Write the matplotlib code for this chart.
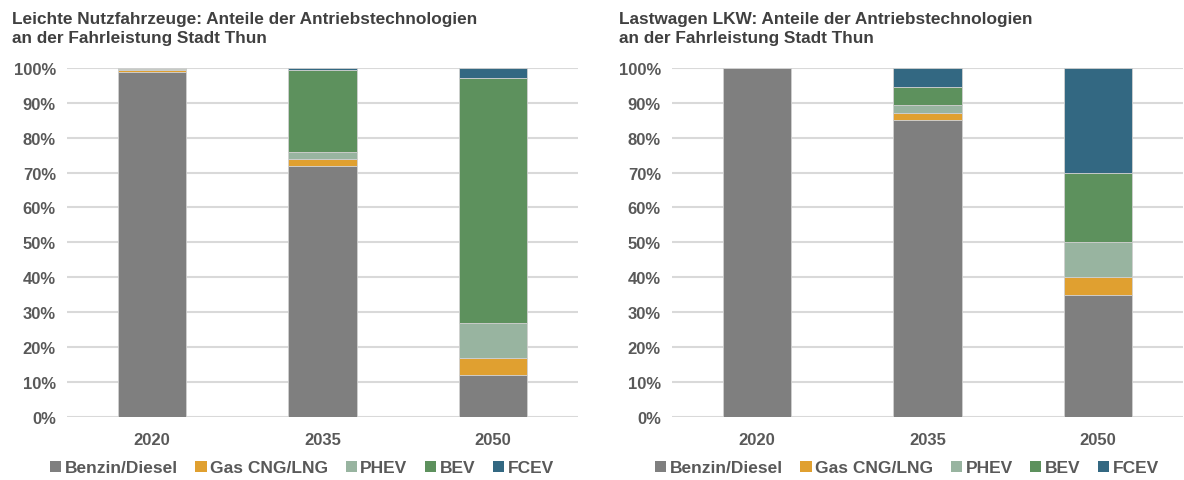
import numpy as np
import matplotlib.pyplot as plt
from matplotlib.patches import Patch
from matplotlib.ticker import PercentFormatter

plt.rcParams['font.family'] = ['Liberation Sans', 'DejaVu Sans']

years = ['2020', '2035', '2050']
techs = ['Benzin/Diesel', 'Gas CNG/LNG', 'PHEV', 'BEV', 'FCEV']
colors = ['#7f7f7f', '#e0a030', '#98b4a0', '#5d915d', '#336882']

# Anteile in % (Leichte Nutzfahrzeuge)
lnf_benzin = [98.9, 72.0, 12.0]
lnf_gas = [0.4, 1.8, 5.0]
lnf_phev = [0.3, 2.0, 10.0]
lnf_bev = [0.4, 23.6, 70.0]
lnf_fcev = [0.0, 0.6, 3.0]

# Anteile in % (Lastwagen)
lkw_benzin = [100.0, 85.0, 35.0]
lkw_gas = [0.0, 2.0, 5.0]
lkw_phev = [0.0, 2.2, 10.0]
lkw_bev = [0.0, 5.4, 20.0]
lkw_fcev = [0.0, 5.4, 30.0]

titles = ['Leichte Nutzfahrzeuge: Anteile der Antriebstechnologien\nan der Fahrleistung Stadt Thun',
          'Lastwagen LKW: Anteile der Antriebstechnologien\nan der Fahrleistung Stadt Thun']

text_col = '#595959'

fig = plt.figure(figsize=(11.84, 4.81), dpi=100)
ax1 = fig.add_axes([0.0566, 0.131, 0.4316, 0.726])
ax2 = fig.add_axes([0.5676, 0.131, 0.4316, 0.726])


def stacked(ax, series, title, title_x):
    x = np.arange(len(years))
    bottom = np.zeros(len(years))
    for vals, c in zip(series, colors):
        vals = np.array(vals)
        ax.bar(x, vals, 0.4, bottom=bottom, color=c, edgecolor='#d0d0d0',
               linewidth=0.6, zorder=3)
        bottom += vals
    ax.set_xlim(-0.5, 2.5)
    ax.set_ylim(0, 100)
    ax.set_yticks(np.arange(0, 101, 10))
    ax.yaxis.set_major_formatter(PercentFormatter(decimals=0))
    ax.set_xticks(x)
    ax.set_xticklabels(years)
    ax.grid(axis='y', color='#d9d9d9', linewidth=1.5, zorder=0)
    for s in ax.spines.values():
        s.set_visible(False)
    ax.tick_params(length=0, labelsize=12, colors=text_col, pad=8)
    ax.tick_params(axis='x', pad=11)
    for lbl in ax.get_xticklabels() + ax.get_yticklabels():
        lbl.set_fontweight('bold')
    fig.text(title_x, 0.975, title, ha='left', va='top', fontsize=12.4,
             fontweight='bold', color='#404040', linespacing=1.35)


stacked(ax1, [lnf_benzin, lnf_gas, lnf_phev, lnf_bev, lnf_fcev], titles[0], 0.010)
stacked(ax2, [lkw_benzin, lkw_gas, lkw_phev, lkw_bev, lkw_fcev], titles[1], 0.523)

handles = [Patch(facecolor=c, edgecolor='none') for c in colors]
for cx in (0.255, 0.766):
    leg = fig.legend(handles, techs, loc='center', bbox_to_anchor=(cx, 0.025),
                     ncol=5, frameon=False, handlelength=0.65, handleheight=0.65,
                     handletextpad=0.2, columnspacing=1.0,
                     prop={'size': 12.5, 'weight': 'bold'})
    for t in leg.get_texts():
        t.set_color(text_col)

fig.savefig('out.png', dpi=100)
